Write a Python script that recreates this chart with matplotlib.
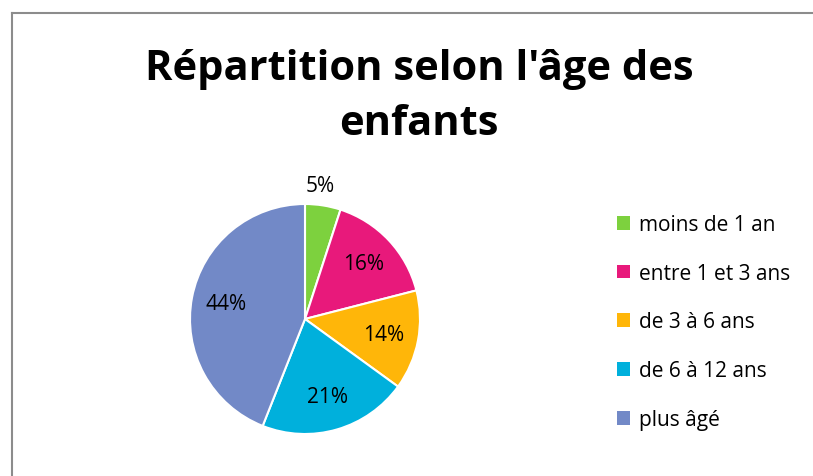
import matplotlib
matplotlib.use("Agg")
import matplotlib.pyplot as plt
from matplotlib.lines import Line2D
from matplotlib.patches import Patch

categories = ["moins de 1 an", "entre 1 et 3 ans", "de 3 à 6 ans", "de 6 à 12 ans", "plus âgé"]
values = [5, 16, 14, 21, 44]
colors = ["#7DD13E", "#E8197B", "#FFB609", "#00B0DC", "#7289C7"]
title = "Répartition selon l'âge des\nenfants"

W, H = 813, 477
fig = plt.figure(figsize=(W / 100, H / 100), dpi=100)
plt.rcParams['font.family'] = ['Open Sans', 'DejaVu Sans']

# frame lines
fig.add_artist(Line2D([12 / W, 12 / W], [0, 1 - 14 / H], transform=fig.transFigure, color="#8c8c8c", lw=1.5))
fig.add_artist(Line2D([12 / W, 1], [1 - 14 / H, 1 - 14 / H], transform=fig.transFigure, color="#8c8c8c", lw=1.5))

cx, cy, r = 305, H - 320, 115
ax = fig.add_axes([(cx - r) / W, (cy - r) / H, 2 * r / W, 2 * r / H])
wedges, texts, autotexts = ax.pie(values, colors=colors, startangle=90, counterclock=False,
                                  autopct=lambda p: f"{p:.0f}%", pctdistance=0.7,
                                  wedgeprops=dict(edgecolor="white", linewidth=1.5),
                                  textprops=dict(fontsize=15, color="black"))
ax.set_xlim(-1, 1)
ax.set_ylim(-1, 1)
ax.set_aspect("equal")
# move the small slice label outside
autotexts[0].set_position((0.13, 1.16))

fig.text(419 / W, 1 - 97 / H, title, ha="center", va="center", fontsize=30, fontweight="bold",
         linespacing=1.45)

handles = [Patch(facecolor=c, edgecolor="none") for c in colors]
fig.legend(handles, categories, loc="center left", bbox_to_anchor=(598 / W, 1 - 323 / H),
           frameon=False, fontsize=15, handlelength=0.65, handleheight=0.65, handletextpad=0.4,
           labelspacing=1.33)

fig.savefig("out.png", dpi=100)
